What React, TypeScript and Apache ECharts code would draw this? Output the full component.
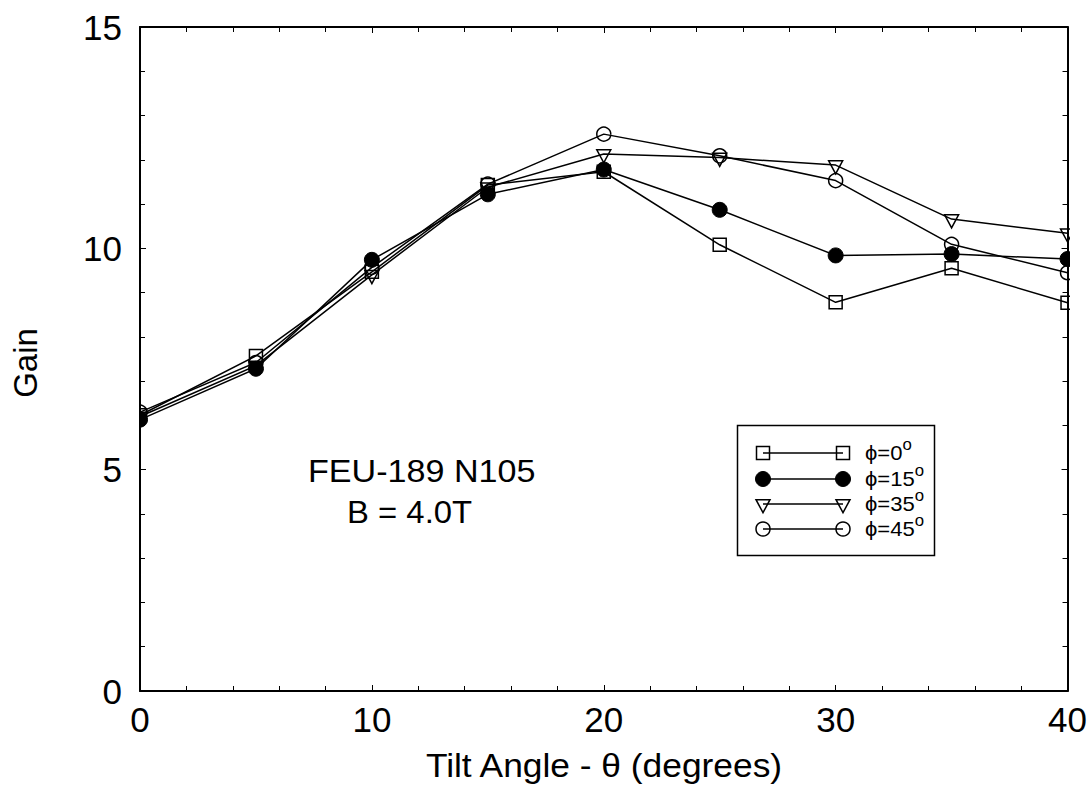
import React, { useEffect, useRef } from "react";
import * as echarts from "echarts";

const tiltAngles = [0, 5, 10, 15, 20, 25, 30, 35, 40];
const gainPhi0 = [6.23, 7.57, 9.47, 11.43, 11.73, 10.08, 8.78, 9.55, 8.77];
const gainPhi15 = [6.13, 7.28, 9.74, 11.22, 11.78, 10.87, 9.84, 9.87, 9.76];
const gainPhi35 = [6.2, 7.35, 9.4, 11.38, 12.13, 12.05, 11.88, 10.66, 10.34];
const gainPhi45 = [6.3, 7.42, 9.57, 11.45, 12.58, 12.09, 11.53, 10.09, 9.45];
const legendLabels = ["ϕ=0", "ϕ=15", "ϕ=35", "ϕ=45"];

const FONT = "'Liberation Sans', Arial, Helvetica, sans-serif";
const TRI = "path://M0,0 L20,0 L10,18 Z";

export default function App() {
  const ref = useRef<HTMLDivElement>(null);
  useEffect(() => {
    if (!ref.current) return;
    const chart = echarts.init(ref.current, null, { renderer: "svg" });
    const toPts = (v: number[]) => tiltAngles.map((x, i) => [x, v[i]]);
    const hollow = { color: "rgba(0,0,0,0)", borderColor: "#000", borderWidth: 1.5 };
    const lineStyle = { color: "#000", width: 1.5 };
    const mk = (name: string, data: number[], symbol: string, size: any, itemStyle: any, offset?: number[]) => ({
      type: "line",
      name,
      data: toPts(data),
      symbol,
      symbolSize: size,
      symbolOffset: offset || [0, 0],
      showAllSymbol: true,
      itemStyle,
      lineStyle,
      z: 2,
      clip: false,
      silent: true,
    });

    const axisCommon = {
      type: "value",
      z: 10,
      splitLine: { show: false },
      axisLine: { show: true, onZero: false, lineStyle: { color: "#000", width: 2 } },
      axisTick: { show: true, inside: true, length: 6, lineStyle: { color: "#000", width: 1 } },
      minorTick: { show: true, splitNumber: 5, length: 5, lineStyle: { color: "#000", width: 1 } },
    };

    // legend graphics
    const rowsY = [453, 479, 504, 529];
    const lx1 = 763, lx2 = 843;
    const legendEls: any[] = [
      {
        type: "rect",
        shape: { x: 737.5, y: 425.5, width: 197, height: 130 },
        style: { fill: "#fff", stroke: "#000", lineWidth: 1.5 },
        z: 20,
      },
    ];
    const markerFor = (i: number, cx: number, cy: number) => {
      const st = { fill: "none", stroke: "#000", lineWidth: 1.5 };
      if (i === 0) return { type: "rect", shape: { x: cx - 6.5, y: cy - 6.5, width: 13, height: 13 }, style: st, z: 22 };
      if (i === 1) return { type: "circle", shape: { cx, cy, r: 7.5 }, style: { fill: "#000", stroke: "#000", lineWidth: 1 }, z: 22 };
      if (i === 2)
        return {
          type: "polygon",
          shape: { points: [[cx - 7, cy - 4.3], [cx + 7, cy - 4.3], [cx, cy + 8.7]] },
          style: st,
          z: 22,
        };
      return { type: "circle", shape: { cx, cy, r: 7 }, style: st, z: 22 };
    };
    rowsY.forEach((y, i) => {
      legendEls.push({ type: "line", shape: { x1: lx1, y1: y, x2: lx2, y2: y }, style: { stroke: "#000", lineWidth: 1.5 }, z: 21 });
      legendEls.push(markerFor(i, lx1, y));
      legendEls.push(markerFor(i, lx2, y));
      legendEls.push({
        type: "text",
        x: 865,
        y: y,
        z: 22,
        scaleX: 1.05,
        style: {
          text: `{a|${legendLabels[i]}}{b|o}`,
          align: "left",
          verticalAlign: "middle",
          fill: "#000",
          rich: {
            a: { fontSize: 21, fontFamily: FONT, lineHeight: 34, verticalAlign: "middle", fill: "#000" },
            b: { fontSize: 16, fontFamily: FONT, lineHeight: 15, verticalAlign: "top", fill: "#000" },
          },
        },
      });
    });

    chart.setOption({
      animation: false,
      backgroundColor: "#fff",
      grid: { left: 140, right: 20, top: 27, bottom: 118, containLabel: false },
      xAxis: [
        {
          ...axisCommon,
          position: "bottom",
          min: 0,
          max: 40,
          interval: 10,
          axisLabel: { show: true, fontSize: 35, fontFamily: FONT, color: "#000", margin: 11 },
        },
        {
          ...axisCommon,
          position: "top",
          min: 0,
          max: 40,
          interval: 10,
          axisLabel: { show: false },
        },
      ],
      yAxis: [
        {
          ...axisCommon,
          position: "left",
          min: 0,
          max: 15,
          interval: 5,
          axisLabel: { show: true, fontSize: 35, fontFamily: FONT, color: "#000", margin: 18 },
        },
        {
          ...axisCommon,
          position: "right",
          min: 0,
          max: 15,
          interval: 5,
          axisLabel: { show: false },
        },
      ],
      graphic: [
        // masks so edge markers look clipped by the frame
        { type: "rect", shape: { x: 0, y: 0, width: 140, height: 809 }, style: { fill: "#fff" }, z: 5, silent: true },
        { type: "rect", shape: { x: 1070, y: 0, width: 20, height: 809 }, style: { fill: "#fff" }, z: 5, silent: true },
        {
          type: "text",
          x: 25,
          y: 363,
          rotation: Math.PI / 2,
          z: 20,
          style: { text: "Gain", fontSize: 33, fontFamily: FONT, fill: "#000", align: "center", verticalAlign: "middle" },
        },
        {
          type: "text",
          x: 604,
          y: 765,
          z: 20,
          scaleX: 1.04,
          style: {
            text: "Tilt Angle - θ (degrees)",
            fontSize: 34,
            fontFamily: FONT,
            fill: "#000",
            align: "center",
            verticalAlign: "middle",
          },
        },
        {
          type: "text",
          x: 308,
          y: 472,
          z: 20,
          scaleX: 1.1,
          style: { text: "FEU-189 N105", fontSize: 31, fontFamily: FONT, fill: "#000", align: "left", verticalAlign: "middle" },
        },
        {
          type: "text",
          x: 347,
          y: 512,
          z: 20,
          scaleX: 1.06,
          style: { text: "B = 4.0T", fontSize: 31, fontFamily: FONT, fill: "#000", align: "left", verticalAlign: "middle" },
        },
        ...legendEls,
      ],
      series: [
        mk("ϕ=0°", gainPhi0, "rect", 13, hollow),
        mk("ϕ=15°", gainPhi15, "circle", 15, { color: "#000", borderColor: "#000", borderWidth: 1 }),
        mk("ϕ=35°", gainPhi35, TRI, [14, 13], hollow, [0, 2.2]),
        mk("ϕ=45°", gainPhi45, "circle", 14, hollow),
      ],
    });
    return () => chart.dispose();
  }, []);
  return <div ref={ref} style={{ position: "absolute", left: 0, top: 0, width: 1090, height: 809 }} />;
}
